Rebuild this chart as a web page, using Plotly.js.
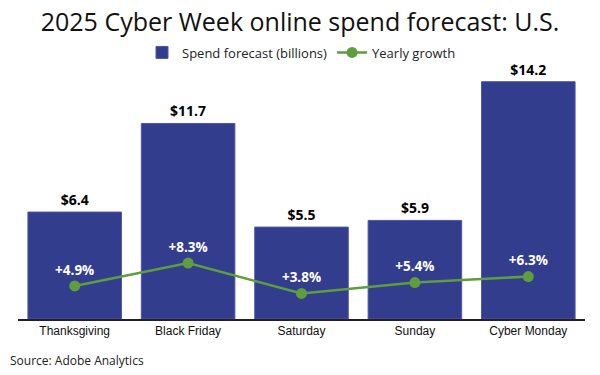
<!DOCTYPE html>
<html>
<head>
<meta charset="utf-8">
<script src="https://cdn.plot.ly/plotly-3.0.1.min.js"></script>
<style>html,body{margin:0;padding:0;background:#fff;}#chart{width:600px;height:375px;}</style>
</head>
<body>
<div id="chart"></div>
<script>
const categories = ["Thanksgiving", "Black Friday", "Saturday", "Sunday", "Cyber Monday"];
const spendBillions = [6.4, 11.7, 5.5, 5.9, 14.2];
const yearlyGrowth = [4.9, 8.3, 3.8, 5.4, 6.3];
const chartTitle = "2025 Cyber Week online spend forecast: U.S.";
const sourceText = "Source: Adobe Analytics";

const barColor = "#333D8E";
const lineColor = "#5E9E3C";

const traces = [
  {
    type: "bar",
    name: "Spend forecast (billions)",
    x: categories,
    y: spendBillions,
    marker: { color: barColor, line: { color: "#5058A3", width: 1 } },
    texttemplate: "$%{y:.1f}",
    textposition: "outside",
    cliponaxis: false,
    textfont: { family: "Open Sans", size: 14, color: "#000", weight: "bold" },
    hoverinfo: "skip"
  },
  {
    type: "scatter",
    mode: "lines+markers+text",
    name: "Yearly growth",
    x: categories,
    y: yearlyGrowth,
    yaxis: "y2",
    line: { color: lineColor, width: 2.5 },
    marker: { color: lineColor, size: 11 },
    texttemplate: "+%{y:.1f}%",
    textposition: "top center",
    cliponaxis: false,
    textfont: { family: "Open Sans", size: 13.5, color: "#fff", weight: "bold" },
    hoverinfo: "skip"
  }
];

const layout = {
  width: 600,
  height: 375,
  margin: { l: 18, r: 15, t: 75, b: 56 },
  paper_bgcolor: "#fff",
  plot_bgcolor: "#fff",
  bargap: 0.175,
  showlegend: true,
  title: {
    text: chartTitle,
    font: { family: "Open Sans", size: 25, color: "#111" },
    x: 0.5, xanchor: "center",
    y: 0.94, yanchor: "middle"
  },
  legend: {
    orientation: "h",
    x: 0.5, xanchor: "center",
    y: 0.9, yref: "container", yanchor: "top",
    font: { family: "Open Sans", size: 13, color: "#222" },
    itemwidth: 30,
    traceorder: "normal"
  },
  xaxis: {
    showline: true, linecolor: "#222", linewidth: 1.5,
    ticks: "", showgrid: false, zeroline: false,
    tickfont: { family: "Liberation Sans, Arial", size: 12, color: "#111" }
  },
  yaxis: {
    range: [0, 14.6], visible: false, showgrid: false, zeroline: false
  },
  yaxis2: {
    range: [0, 36.2], overlaying: "y", visible: false, showgrid: false, zeroline: false
  },
  annotations: [
    {
      text: sourceText, xref: "paper", yref: "paper",
      x: 0, xanchor: "left", xshift: -10,
      y: 0, yanchor: "middle", yshift: -41,
      showarrow: false,
      font: { family: "Open Sans", size: 12, color: "#222" }
    }
  ]
};

Plotly.newPlot("chart", traces, layout, { displayModeBar: false, staticPlot: true });
</script>
</body>
</html>
